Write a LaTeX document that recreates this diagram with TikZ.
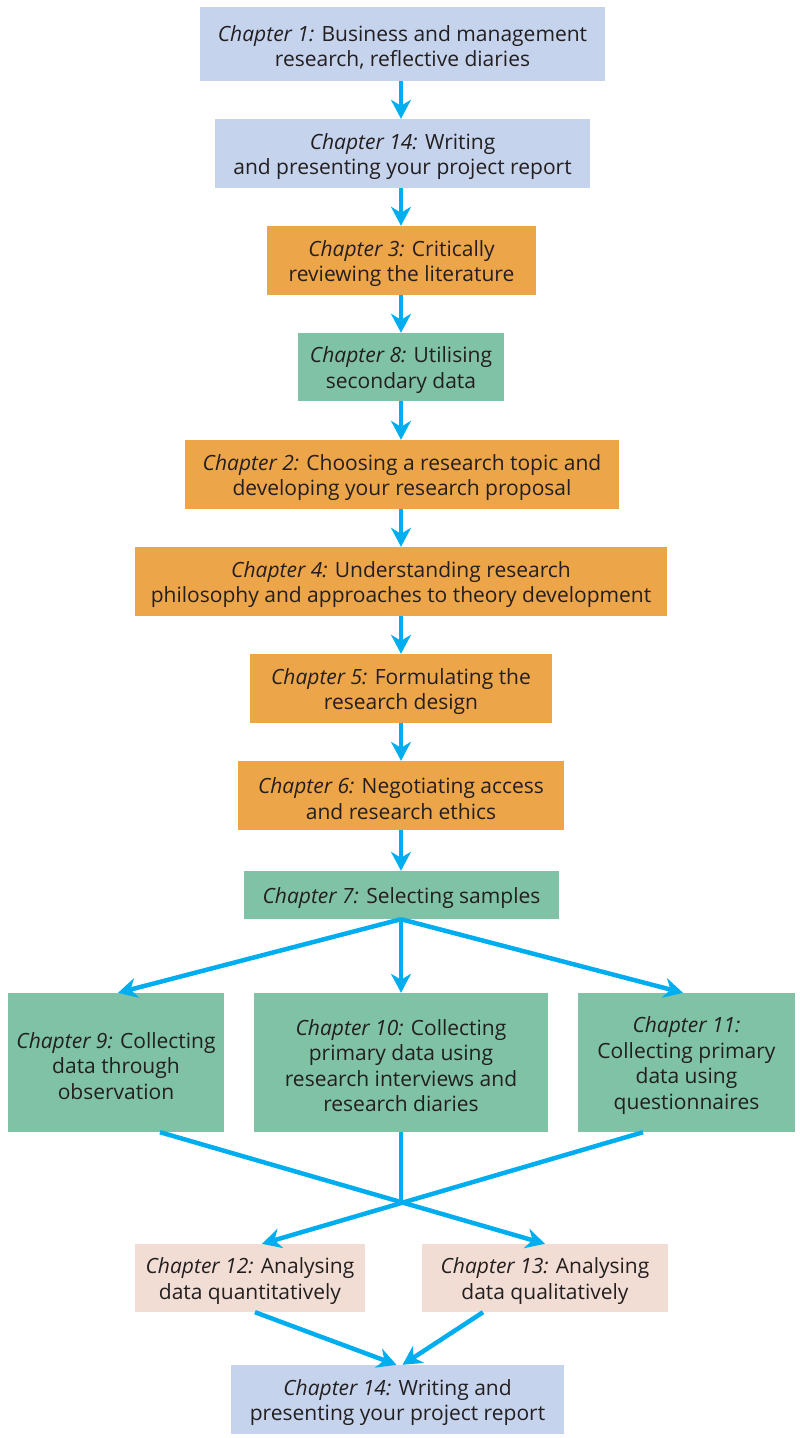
\documentclass[tikz,border=0pt]{standalone}
\usepackage{fontspec}
\setmainfont{Open Sans}
\usetikzlibrary{arrows.meta}
\definecolor{boxblue}{HTML}{C5D3EC}
\definecolor{boxorange}{HTML}{EDA54A}
\definecolor{boxgreen}{HTML}{7FC2A5}
\definecolor{boxpink}{HTML}{F1DDD3}
\definecolor{flow}{HTML}{00AEEF}
\definecolor{ink}{HTML}{231F20}
% chapter label, with a tall strut that lowers the text block slightly
\newcommand{\chap}[1]{\rule{0pt}{22.5pt}\textit{Chapter #1:}}
\begin{document}
\begin{tikzpicture}[x=1pt,y=-1pt,
  chapbox/.style={inner sep=0pt,align=center,text=ink,
    font=\fontsize{21}{25.5}\selectfont},
  bluebox/.style={chapbox,fill=boxblue},
  orangebox/.style={chapbox,fill=boxorange},
  greenbox/.style={chapbox,fill=boxgreen},
  pinkbox/.style={chapbox,fill=boxpink},
  flowline/.style={draw=flow,line width=4.5pt},
  flowarrow/.style={flowline,-{Stealth[length=19pt,width=20pt,inset=6pt]}}]
\useasboundingbox (0,0) rectangle (800,1438);
% main sequence of chapters
\node[bluebox,minimum width=405pt,minimum height=74pt] (n1) at (402.5,44)
  {\chap{1} Business and management\\research, reflective diaries};
\node[bluebox,minimum width=375pt,minimum height=69pt] (n2) at (402.5,153.5)
  {\chap{14} Writing\\and presenting your project report};
\node[orangebox,minimum width=269pt,minimum height=69pt] (n3) at (401.5,260.5)
  {\chap{3} Critically\\reviewing the literature};
\node[greenbox,minimum width=206pt,minimum height=68pt] (n4) at (401,367)
  {\chap{8} Utilising\\secondary data};
\node[orangebox,minimum width=434pt,minimum height=69pt] (n5) at (402,474.5)
  {\chap{2} Choosing a research topic and\\developing your research proposal};
\node[orangebox,minimum width=532pt,minimum height=69pt] (n6) at (401,581.5)
  {\chap{4} Understanding research\\philosophy and approaches to theory development};
\node[orangebox,minimum width=302pt,minimum height=69pt] (n7) at (401,688.5)
  {\chap{5} Formulating the\\research design};
\node[orangebox,minimum width=326pt,minimum height=69pt] (n8) at (401,795.5)
  {\chap{6} Negotiating access\\and research ethics};
\node[greenbox,minimum width=315pt,minimum height=48pt] (n9) at (401.5,895)
  {\chap{7} Selecting samples};
% data collection
\node[greenbox,minimum width=216pt,minimum height=139pt] (n10) at (116,1062.5)
  {\chap{9} Collecting\\data through\\observation};
\node[greenbox,minimum width=294pt,minimum height=139pt] (n11) at (401,1062.5)
  {\chap{10} Collecting\\primary data using\\research interviews and\\research diaries};
\node[greenbox,minimum width=217pt,minimum height=139pt] (n12) at (686.5,1062.5)
  {\chap{11}\\Collecting primary\\data using\\questionnaires};
% analysis
\node[pinkbox,minimum width=230pt,minimum height=68pt] (n13) at (250,1278)
  {\chap{12} Analysing\\data quantitatively};
\node[pinkbox,minimum width=246pt,minimum height=68pt] (n14) at (545,1278)
  {\chap{13} Analysing\\data qualitatively};
\node[bluebox,minimum width=333pt,minimum height=69pt] (n15) at (397.5,1399.5)
  {\chap{14} Writing and\\presenting your project report};
% vertical flow
\draw[flowarrow] ([xshift=-1.5pt]n1.south) -- ([xshift=-1.5pt]n1.south |- n2.north);
\draw[flowarrow] ([xshift=-1.5pt]n2.south) -- ([xshift=-1.5pt]n2.south |- n3.north);
\draw[flowarrow] ([xshift=-0.5pt]n3.south) -- ([xshift=-0.5pt]n3.south |- n4.north);
\draw[flowarrow] (n4.south) -- (n4.south |- n5.north);
\draw[flowarrow] (n5.south -| n4.south) -- (n4.south |- n6.north);
\draw[flowarrow] (n6.south) -- (n6.south |- n7.north);
\draw[flowarrow] (n7.south) -- (n7.south |- n8.north);
\draw[flowarrow] (n8.south) -- (n8.south |- n9.north);
% fan out to the three collection chapters
\coordinate (split) at ([xshift=-0.5pt]n9.south);
\draw[flowarrow] (split) -- ([xshift=2pt]n10.north);
\draw[flowarrow] (split) -- (split |- n11.north);
\draw[flowarrow] (split) -- ([xshift=-3.5pt]n12.north);
% crossing lines into the analysis chapters
\coordinate (cross) at (401,1200);
\draw[flowline] (n11.south) -- (cross);
\draw[flowarrow] ([xshift=44pt]n10.south) -- (n14.north);
\draw[flowarrow] ([xshift=-43.5pt]n12.south) -- ([xshift=12pt]n13.north);
% into the final report
\draw[flowarrow] ([xshift=5pt]n13.south) -- ([xshift=-1pt]n15.north);
\draw[flowarrow] ([xshift=-62pt]n14.south) -- ([xshift=5pt]n15.north);
\end{tikzpicture}
\end{document}
